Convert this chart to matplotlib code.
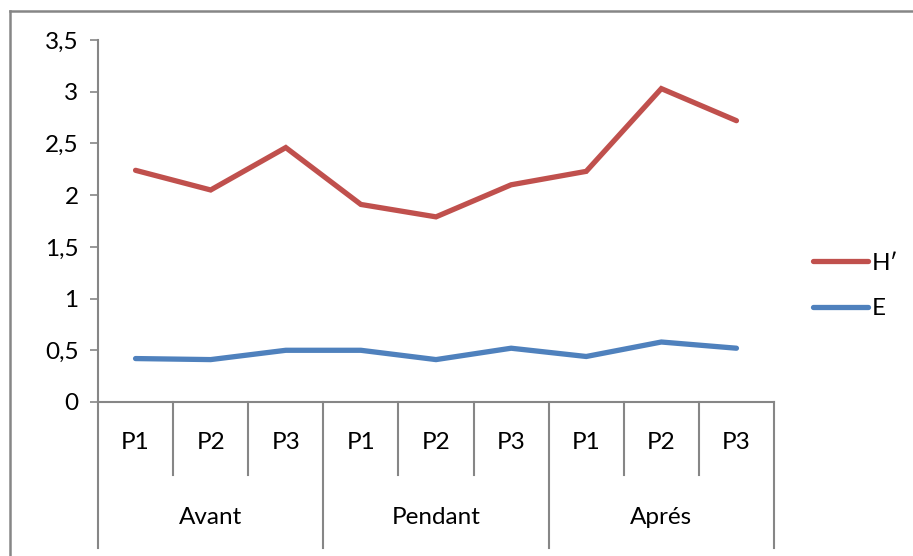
import matplotlib.pyplot as plt
import matplotlib.transforms as mtransforms
from matplotlib.lines import Line2D

plt.rcParams['font.family'] = ['Lato', 'DejaVu Sans']

periods = ["Avant", "Pendant", "Aprés"]
points = ["P1", "P2", "P3"]
h_values = [2.24, 2.05, 2.46, 1.91, 1.79, 2.10, 2.23, 3.03, 2.72]
e_values = [0.42, 0.41, 0.50, 0.50, 0.41, 0.52, 0.44, 0.58, 0.52]
y_ticks = [0, 0.5, 1, 1.5, 2, 2.5, 3, 3.5]
y_labels = ["0", "0,5", "1", "1,5", "2", "2,5", "3", "3,5"]

red = "#C0504D"
blue = "#4F81BD"
gray = "#868686"
fs = 17.5

fig = plt.figure(figsize=(9.13, 5.56), dpi=100)
# outer chart border (only top and left visible in the picture)
fig.add_artist(Line2D([10/913, 10/913], [0, 1 - 11/556], color=gray, lw=1.8))
fig.add_artist(Line2D([10/913, 1], [1 - 11/556, 1 - 11/556], color=gray, lw=1.8))

ax = fig.add_axes([98/913, 154/556, 676/913, 362/556])
x = list(range(len(h_values)))
ax.plot(x, h_values, color=red, lw=3.8, solid_capstyle='round', solid_joinstyle='miter', label="H\u2032")
ax.plot(x, e_values, color=blue, lw=3.8, solid_capstyle='round', solid_joinstyle='miter', label="E")

ax.set_xlim(-0.5, len(x) - 0.5)
ax.set_ylim(0, 3.5)
ax.set_yticks(y_ticks)
ax.set_yticklabels(y_labels, fontsize=fs)
ax.tick_params(axis='y', direction='out', length=6, width=1.2, color=gray, pad=8)
ax.set_xticks([])
for s in ['top', 'right']:
    ax.spines[s].set_visible(False)
for s in ['left', 'bottom']:
    ax.spines[s].set_color(gray)
    ax.spines[s].set_linewidth(1.5)

trans = mtransforms.blended_transform_factory(ax.transData, ax.transAxes)
# left axis extension down through category table
ax.plot([-0.5, -0.5], [0, -0.403], color=gray, lw=1.5, transform=trans, clip_on=False)
for i in range(1, len(x) + 1):
    b = i - 0.5
    low = -0.403 if i % 3 == 0 else -0.202
    ax.plot([b, b], [0, low], color=gray, lw=1.5, transform=trans, clip_on=False)
for i in x:
    ax.text(i, -0.113, points[i % 3], transform=trans, ha='center', va='center', fontsize=fs)
for g, name in enumerate(periods):
    ax.text(g * 3 + 1, -0.318, name, transform=trans, ha='center', va='center', fontsize=fs)

fig.legend(loc='center left', bbox_to_anchor=(813/913, 1 - 286/556), frameon=False,
           borderpad=0, borderaxespad=0, fontsize=fs, handlelength=2.25,
           handletextpad=0.15, labelspacing=1.0)

fig.savefig("out.png", dpi=100)
